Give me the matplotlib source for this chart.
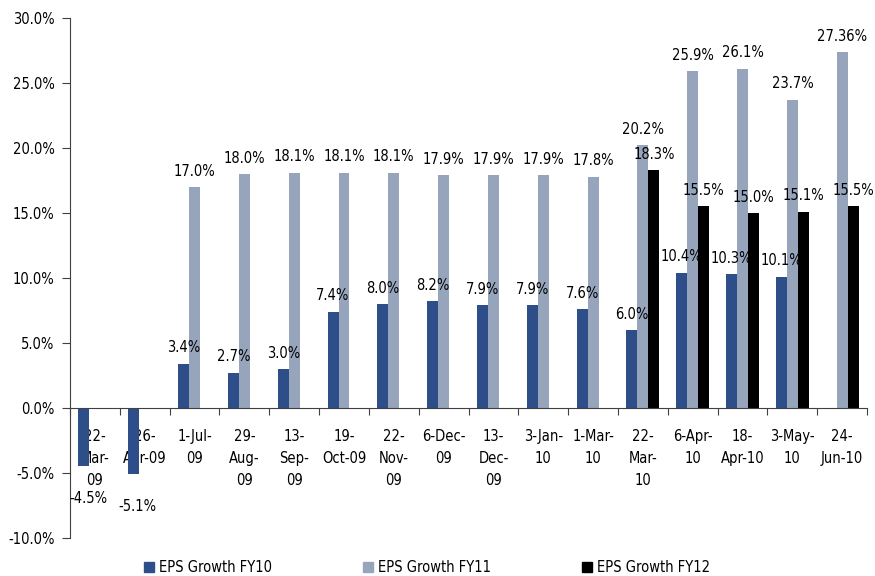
import numpy as np
import matplotlib
matplotlib.use("Agg")
import matplotlib.pyplot as plt
from matplotlib.ticker import FuncFormatter, FixedLocator

plt.rcParams['font.family'] = ['DejaVu Sans']
plt.rcParams['font.stretch'] = 'condensed'

# dates of the consensus snapshots
dates = ["22-\nMar-\n09", "26-\nApr-09", "1-Jul-\n09", "29-\nAug-\n09", "13-\nSep-\n09",
         "19-\nOct-09", "22-\nNov-\n09", "6-Dec-\n09", "13-\nDec-\n09", "3-Jan-\n10",
         "1-Mar-\n10", "22-\nMar-\n10", "6-Apr-\n10", "18-\nApr-10", "3-May-\n10", "24-\nJun-10"]

# EPS growth estimates (%), None = no estimate at that date
fy10 = [-4.5, -5.1, 3.4, 2.7, 3.0, 7.4, 8.0, 8.2, 7.9, 7.9, 7.6, 6.0, 10.4, 10.3, 10.1, None]
fy11 = [None, None, 17.0, 18.0, 18.1, 18.1, 18.1, 17.9, 17.9, 17.9, 17.8, 20.2, 25.9, 26.1, 23.7, 27.36]
fy12 = [None] * 11 + [18.3, 15.5, 15.0, 15.1, 15.5]

series = [("EPS Growth FY10", fy10, "#2E4E8A"),
          ("EPS Growth FY11", fy11, "#97A5BC"),
          ("EPS Growth FY12", fy12, "#000000")]

fig = plt.figure(figsize=(8.75, 5.76), dpi=100)
ax = fig.add_axes([0.08, 0.066, 0.911, 0.9028])

x = np.arange(len(dates))
width = 0.22
fs = 10.5

handles = []
for i, (name, vals, col) in enumerate(series):
    offs = (i - 1) * width
    for xi, v in zip(x, vals):
        if v is None:
            continue
        ax.bar(xi + offs, v, width, color=col, zorder=2)
        if v >= 0:
            ax.annotate(f"{v}%", (xi + offs, v), xytext=(0, 11.5), textcoords="offset points",
                        ha="center", va="center", fontsize=fs, zorder=5)
        else:
            ax.annotate(f"{v}%", (xi + offs, v), xytext=(3, -23), textcoords="offset points",
                        ha="center", va="center", fontsize=fs, zorder=5)
    handles.append(plt.Rectangle((0, 0), 1, 1, color=col, label=name))

ax.set_xlim(-0.5, len(dates) - 0.5)
ax.set_ylim(-10, 30)

for s in ["top", "right"]:
    ax.spines[s].set_visible(False)
ax.spines["bottom"].set_position(("data", 0))
ax.spines["bottom"].set_color("#404040")
ax.spines["left"].set_color("#404040")

# category boundaries get the tick marks, centres get the labels
ax.xaxis.set_major_locator(FixedLocator(np.arange(-0.5, len(dates), 1.0)))
ax.xaxis.set_minor_locator(FixedLocator(x))
ax.set_xticklabels([""] * (len(dates) + 1))
ax.set_xticklabels(dates, minor=True, fontsize=fs, linespacing=1.6, va="top")
ax.tick_params(axis="x", which="major", direction="out", length=5, color="#404040")
ax.tick_params(axis="x", which="minor", length=0, pad=15)

ax.set_yticks(np.arange(-10, 31, 5))
ax.yaxis.set_major_formatter(FuncFormatter(lambda v, p: f"{v:.1f}%"))
ax.tick_params(axis="y", direction="out", length=6, color="#404040", labelsize=fs, pad=5)

fig.legend(handles=handles, loc="lower center", bbox_to_anchor=(0.488, -0.021), ncol=3,
           frameon=False, fontsize=fs, handlelength=0.7, handleheight=0.7,
           handletextpad=0.35, columnspacing=6.2)

fig.savefig("out.png", dpi=100)
